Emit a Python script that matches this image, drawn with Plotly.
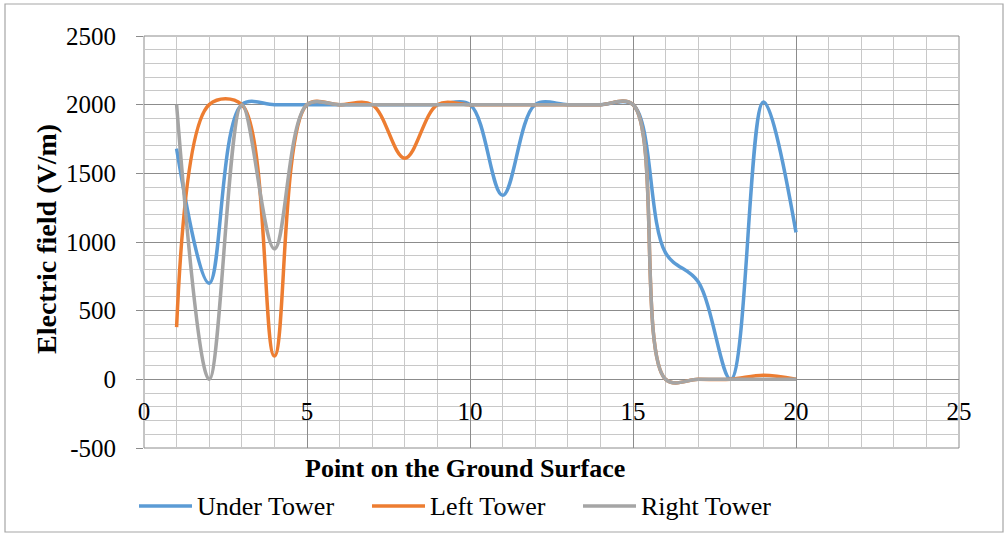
import plotly.graph_objects as go

# Measurement points along the ground surface
points = list(range(1, 21))

# Electric field (V/m) for each tower position
under_tower = [1680, 700, 2000, 2000, 2000, 2000, 2000, 2000, 2000, 2000,
               1340, 2000, 2000, 2000, 2000, 920, 710, 0, 2020, 1070]
left_tower = [380, 2000, 2000, 170, 2000, 2000, 2000, 1610, 2000, 2000,
              2000, 2000, 2000, 2000, 2000, 0, 0, 0, 30, 0]
right_tower = [2000, 0, 2000, 950, 2000, 2000, 2000, 2000, 2000, 2000,
               2000, 2000, 2000, 2000, 2000, 0, 0, 0, 0, 0]

# Axis ticks
x_ticks = [0, 5, 10, 15, 20, 25]
y_ticks = [-500, 0, 500, 1000, 1500, 2000, 2500]
y_tick_text = ["-500", "0", "500", "1000", "1500", "2000", "2500"]

series = [
    ("Under Tower", under_tower, "#5B9BD5"),
    ("Left Tower", left_tower, "#ED7D31"),
    ("Right Tower", right_tower, "#A5A5A5"),
]

W, H = 1007, 535
L, R, T, B = 144, 48, 36, 87
pw, ph = W - L - R, H - T - B

def px(xp):
    return (xp - L) / pw

def py(yp):
    return (H - B - yp) / ph

FONT = "Liberation Serif, Times New Roman, serif"
MAJOR = "#8c8c8c"
MINOR = "#c8c8c8"

fig = go.Figure()
for name, vals, color in series:
    fig.add_trace(go.Scatter(
        x=points, y=vals, name=name, mode="lines",
        line=dict(color=color, width=3.5, shape="spline", smoothing=1.0),
        showlegend=False,
    ))

shapes = []
annotations = []

# Outer chart border
shapes.append(dict(type="rect", xref="paper", yref="paper",
                   x0=px(5), x1=px(1003), y0=py(532), y1=py(4),
                   line=dict(color="#a6a6a6", width=1.2), layer="below"))
# Plot area frame
shapes.append(dict(type="rect", xref="paper", yref="paper",
                   x0=0, x1=1, y0=0, y1=1,
                   line=dict(color=MAJOR, width=1), layer="below"))

# Legend row drawn under the axis title
legend_items = [(139, "Under Tower", "#5B9BD5"),
                (372, "Left Tower", "#ED7D31"),
                (583, "Right Tower", "#A5A5A5")]
for x0, label, color in legend_items:
    shapes.append(dict(type="line", xref="paper", yref="paper",
                       x0=px(x0), x1=px(x0 + 53), y0=py(506), y1=py(506),
                       line=dict(color=color, width=3.5)))
    annotations.append(dict(text=label, xref="paper", yref="paper",
                            x=px(x0 + 56), y=py(506), xanchor="left",
                            yanchor="middle", showarrow=False,
                            font=dict(family=FONT, size=26, color="#000")))

# Axis titles
annotations.append(dict(text="<b>Point on the Ground Surface</b>",
                        xref="paper", yref="paper", x=px(465), y=py(468),
                        xanchor="center", yanchor="middle", showarrow=False,
                        font=dict(family=FONT, size=26, color="#000")))
annotations.append(dict(text="<b>Electric field (V/m)</b>",
                        xref="paper", yref="paper", x=px(46), y=py(239),
                        xanchor="center", yanchor="middle", showarrow=False,
                        textangle=-90,
                        font=dict(family=FONT, size=28, color="#000")))

fig.update_layout(
    width=W, height=H,
    margin=dict(l=L, r=R, t=T, b=B, pad=0),
    paper_bgcolor="white", plot_bgcolor="white",
    shapes=shapes, annotations=annotations,
    font=dict(family=FONT, size=25, color="#000"),
    xaxis=dict(
        range=[0, 25], tickmode="array", tickvals=x_ticks,
        showgrid=True, gridcolor=MAJOR, gridwidth=1,
        minor=dict(dtick=1, tick0=0, showgrid=True, gridcolor=MINOR, gridwidth=1),
        zeroline=False, showline=False, ticks="",
        anchor="free", position=1 / 6, ticklabelstandoff=15,
        tickfont=dict(family=FONT, size=25, color="#000"),
    ),
    yaxis=dict(
        range=[-500, 2500], tickmode="array", tickvals=y_ticks,
        ticktext=y_tick_text,
        showgrid=True, gridcolor=MAJOR, gridwidth=1,
        minor=dict(dtick=100, tick0=0, showgrid=True, gridcolor=MINOR, gridwidth=1),
        zeroline=True, zerolinecolor=MAJOR, zerolinewidth=1,
        showline=False, ticks="outside", ticklen=7, tickcolor=MAJOR,
        ticklabelstandoff=15,
        tickfont=dict(family=FONT, size=25, color="#000"),
    ),
)

fig.write_html("out.html")
